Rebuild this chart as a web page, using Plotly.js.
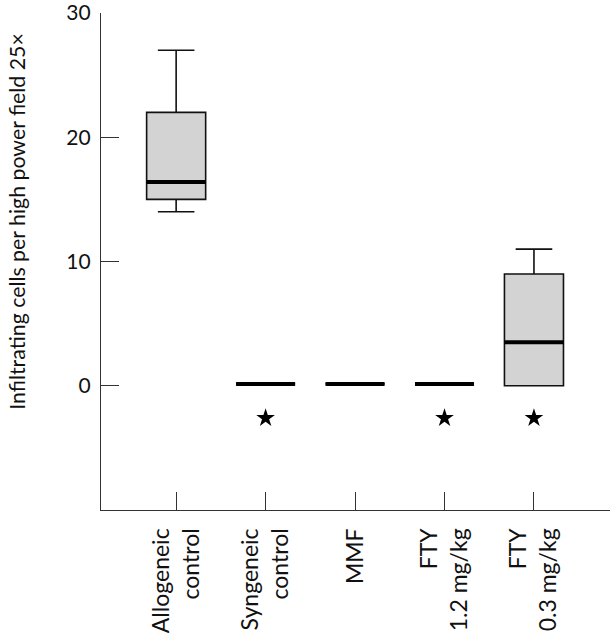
<!DOCTYPE html>
<html><head><meta charset="utf-8">
<script src="https://cdn.plot.ly/plotly-3.0.1.min.js"></script>
<style>html,body{margin:0;padding:0;background:#fff}#chart{width:610px;height:640px}</style>
</head><body><div id="chart"></div>
<script>
var categories = ["Allogeneic<br>control", "Syngeneic<br>control", "MMF", "FTY<br>1.2 mg/kg", "FTY<br>0.3 mg/kg"];
var lowerWhisker = [14, 0, 0, 0, 0];
var q1 = [15, 0, 0, 0, 0];
var median = [16.4, 0.15, 0.15, 0.15, 3.5];
var q3 = [22, 0, 0, 0, 9];
var upperWhisker = [27, 0, 0, 0, 11];
var starIndex = [1, 3, 4];
var starY = [-2.6, -2.6, -2.6];
var yTicks = [0, 10, 20, 30];
var yTitle = 'Infiltrating cells per high power field 25×';

var pos = categories.map(function(c, i){ return i; });
var halfW = 0.33;
var font = "Lato, 'Open Sans', sans-serif";

var traces = [];
traces.push({
  type: 'box', x: pos, q1: q1, median: median, q3: q3,
  lowerfence: lowerWhisker, upperfence: upperWhisker,
  width: 2*halfW, whiskerwidth: 0.62,
  fillcolor: '#d3d3d3', line: {color: '#111', width: 1.6},
  hoverinfo: 'skip', showlegend: false
});
var mx = [], my = [];
pos.forEach(function(p, i){
  mx.push(p - halfW, p + halfW, null);
  my.push(median[i], median[i], null);
});
traces.push({type: 'scatter', mode: 'lines', x: mx, y: my,
  line: {color: '#000', width: 4}, hoverinfo: 'skip', showlegend: false});
traces.push({type: 'scatter', mode: 'markers', x: starIndex, y: starY,
  marker: {symbol: 'star', size: 14, color: '#000', line: {width: 0}},
  hoverinfo: 'skip', showlegend: false});

var layout = {
  width: 610, height: 640,
  margin: {l: 101, r: 0, t: 13, b: 130},
  paper_bgcolor: '#fff', plot_bgcolor: '#fff',
  font: {family: font, color: '#111'},
  showlegend: false,
  xaxis: {
    range: [-0.84, 4.85], tickvals: pos, ticktext: categories,
    tickangle: -90, ticks: 'inside', ticklen: 18, tickcolor: '#333', tickwidth: 1,
    showline: true, linecolor: '#333', linewidth: 1.2, showgrid: false, zeroline: false,
    tickfont: {size: 23, family: font, color: '#111'}, ticklabelstandoff: 8,
    ticklabeloverflow: 'allow'
  },
  yaxis: {
    range: [-10, 30], tickvals: yTicks, ticktext: yTicks.map(String),
    ticks: 'inside', ticklen: 18, tickcolor: '#333', tickwidth: 1,
    showline: true, linecolor: '#333', linewidth: 1.2, showgrid: false, zeroline: false,
    tickfont: {size: 21, family: font, color: '#111'}, ticklabelstandoff: 5,
    ticklabeloverflow: 'allow'
  },
  annotations: [{
    text: yTitle, textangle: -90, xref: 'paper', yref: 'paper',
    x: -0.165, y: 0.58, xanchor: 'center', yanchor: 'middle', showarrow: false,
    font: {size: 21.3, family: font, color: '#111'}
  }]
};
Plotly.newPlot('chart', traces, layout, {staticPlot: true, displayModeBar: false});
</script></body></html>
